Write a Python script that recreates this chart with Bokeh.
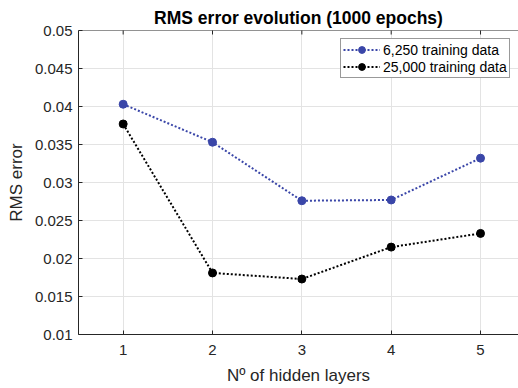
import math
from bokeh.plotting import figure
from bokeh.models import (FixedTicker, NumeralTickFormatter, Legend,
                          LegendItem, Range1d, Span)
from bokeh.embed import file_html
from bokeh.resources import INLINE

# ---- data ----
layers = [1, 2, 3, 4, 5]
rms_6250 = [0.0403, 0.0353, 0.0276, 0.0277, 0.0332]
rms_25000 = [0.0377, 0.0181, 0.0173, 0.0215, 0.0233]
series_labels = ["6,250 training data", "25,000 training data"]
x_ticks = [1, 2, 3, 4, 5]
y_ticks = [0.01, 0.015, 0.02, 0.025, 0.03, 0.035, 0.04, 0.045, 0.05]
title_text = "RMS error evolution (1000 epochs)"
x_label = "Nº of hidden layers"
y_label = "RMS error"

FONT = "Liberation Sans"
AXC = "#262626"
BLUE = "#3a46a8"

p = figure(width=518, height=388, output_backend="svg", toolbar_location=None,
           x_range=Range1d(0.5, 5.425), y_range=Range1d(y_ticks[0], y_ticks[-1]),
           min_border_left=78, min_border_right=0, min_border_top=30,
           min_border_bottom=54, background_fill_color="white",
           border_fill_color="white")
p.outline_line_color = None

p.title.text = title_text
p.title.text_font = FONT
p.title.text_font_size = "17.5px"
p.title.text_font_style = "bold"
p.title.text_color = "#000000"
p.title.align = "center"
p.title.standoff = 5

for ax in p.below:
    ax.ticker = FixedTicker(ticks=x_ticks)
    ax.axis_label = x_label
    ax.axis_label_text_font = FONT
    ax.axis_label_text_font_size = "17px"
    ax.axis_label_text_font_style = "normal"
    ax.axis_label_text_color = AXC
    ax.axis_label_standoff = 8
    ax.major_label_text_font = FONT
    ax.major_label_text_font_size = "15px"
    ax.major_label_text_color = AXC
    ax.major_label_standoff = 10
    ax.major_tick_in = 4
    ax.major_tick_out = 0
    ax.minor_tick_line_color = None
    ax.axis_line_color = AXC
    ax.major_tick_line_color = AXC

for ax in p.left:
    ax.ticker = FixedTicker(ticks=y_ticks)
    ax.formatter = NumeralTickFormatter(format="0.[000]")
    ax.axis_label = y_label
    ax.axis_label_text_font = FONT
    ax.axis_label_text_font_size = "17px"
    ax.axis_label_text_font_style = "normal"
    ax.axis_label_text_color = AXC
    ax.axis_label_standoff = 6
    ax.major_label_text_font = FONT
    ax.major_label_text_font_size = "15px"
    ax.major_label_text_color = AXC
    ax.major_label_standoff = 6
    ax.major_tick_in = 4
    ax.major_tick_out = 0
    ax.minor_tick_line_color = None
    ax.axis_line_color = AXC
    ax.major_tick_line_color = AXC

p.xgrid.ticker = FixedTicker(ticks=x_ticks)
p.ygrid.ticker = FixedTicker(ticks=y_ticks)
p.xgrid.grid_line_color = "#e3e3e3"
p.ygrid.grid_line_color = "#e3e3e3"

# top box line with inward ticks
p.add_layout(Span(location=y_ticks[-1], dimension="width", line_color=AXC, line_width=1))
p.scatter(x_ticks, [y_ticks[-1]] * len(x_ticks), marker="dash", angle=math.pi / 2,
          size=8, line_color=AXC, line_width=1)

l1 = p.line(layers, rms_6250, line_color=BLUE, line_width=2, line_dash="2 2")
s1 = p.scatter(layers, rms_6250, size=8, fill_color=BLUE, line_color=BLUE)
l2 = p.line(layers, rms_25000, line_color="#000000", line_width=2, line_dash="2 2")
s2 = p.scatter(layers, rms_25000, size=8, fill_color="#000000", line_color="#000000")

legend = Legend(items=[LegendItem(label=series_labels[0], renderers=[l1, s1]),
                       LegendItem(label=series_labels[1], renderers=[l2, s2])],
                location=(262, 256), margin=0, padding=2, spacing=0,
                label_text_font=FONT, label_text_font_size="14px",
                label_text_color="#000000", label_standoff=3,
                glyph_width=37, glyph_height=17, label_height=17,
                border_line_color="#333333", border_line_width=1,
                background_fill_color="white", background_fill_alpha=1)
p.add_layout(legend, "center")

open("out.html", "w").write(file_html(p, INLINE))
